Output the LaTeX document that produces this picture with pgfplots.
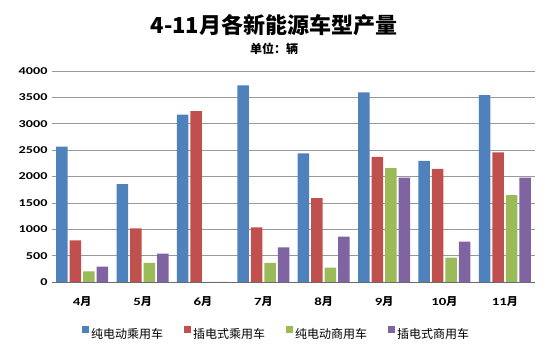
\documentclass[border=0pt]{standalone}
\usepackage{pgfplots}
\pgfplotsset{compat=1.18}
\usepackage{fontspec}
\setmainfont{Noto Sans CJK SC}
\newfontfamily\num[FakeStretch=1.35]{Carlito}
\definecolor{cA}{HTML}{4F81BD}
\definecolor{cB}{HTML}{C0504D}
\definecolor{cC}{HTML}{9BBB59}
\definecolor{cD}{HTML}{8064A2}
\pgfplotsset{/pgfplots/ybar legend/.style={/pgfplots/legend image code/.code={\fill[##1,draw=none] (0pt,0.5pt) rectangle (7pt,7.5pt);}}}
\begin{document}
\begin{tikzpicture}
\useasboundingbox (0pt,0pt) rectangle (550pt,356pt);
\begin{axis}[at={(52pt,74pt)}, anchor=south west, scale only axis,
  width=483pt, height=211pt,
  ybar=2pt, bar width=11.5pt,
  xmin=-0.5, xmax=7.5, ymin=0, ymax=4000,
  xtick={0,1,2,3,4,5,6,7},
  xticklabels={{\num\bfseries 4}{\bfseries 月},{\num\bfseries 5}{\bfseries 月},{\num\bfseries 6}{\bfseries 月},{\num\bfseries 7}{\bfseries 月},{\num\bfseries 8}{\bfseries 月},{\num\bfseries 9}{\bfseries 月},{\num\bfseries 10}{\bfseries 月},{\num\bfseries 11}{\bfseries 月}},
  ytick={0,500,...,4000},
  ymajorgrids, grid style={gray!80, line width=0.7pt},
  axis x line*=bottom, axis y line*=left,
  y axis line style={draw=none},
  x axis line style={gray!85!black, line width=0.8pt},
  major tick length=0pt,
  /pgf/number format/assume math mode=true,
  /pgf/number format/1000 sep={},
  yticklabel style={font=\num\bfseries\fontsize{10.5}{12}\selectfont, xshift=-1pt},
  xticklabel style={font=\fontsize{11}{13}\selectfont, anchor=center, yshift=-20pt},
  legend style={at={(0.465,-0.246)}, anchor=center, draw=none, fill=none,
    legend columns=4, font=\fontsize{12}{14}\selectfont,
    /tikz/every even column/.append style={column sep=19pt}},
  legend cell align=left,
]
\addplot[fill=cA, draw=none] coordinates {(0,2564) (1,1854) (2,3172) (3,3728) (4,2437) (5,3595) (6,2298) (7,3544)};
\addplot[fill=cB, draw=none] coordinates {(0,790) (1,1018) (2,3240) (3,1037) (4,1588) (5,2374) (6,2146) (7,2456)};
\addplot[fill=cC, draw=none] coordinates {(0,201) (1,361) (2,0) (3,361) (4,272) (5,2158) (6,462) (7,1645)};
\addplot[fill=cD, draw=none] coordinates {(0,291) (1,537) (2,0) (3,657) (4,860) (5,1981) (6,765) (7,1981)};
\legend{纯电动乘用车,插电式乘用车,纯电动商用车,插电式商用车}
\end{axis}
\node[font=\bfseries\fontsize{22}{25}\selectfont] at (274pt,331pt) {4-11月各新能源车型产量};
\node[font=\bfseries\fontsize{12}{14}\selectfont] at (274pt,307pt) {单位：辆};
\end{tikzpicture}
\end{document}
